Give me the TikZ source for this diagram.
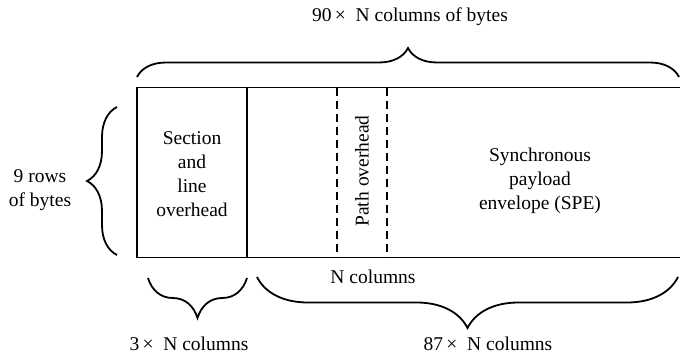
\documentclass[tikz,border=0pt]{standalone}
\usepackage{fontspec}
\setmainfont{Liberation Serif}
\usetikzlibrary{decorations.pathreplacing}
\begin{document}
\begin{tikzpicture}[x=1pt,y=-1pt,
  lbl/.style={font=\fontsize{19.5}{24}\selectfont, inner sep=0pt, align=center},
  frame/.style={line width=1.8pt},
  dashln/.style={line width=1.8pt, dash pattern=on 8pt off 5pt},
  brc/.style={line width=1.8pt, decorate, decoration={brace, amplitude=#1}}]
\useasboundingbox (0,0) rectangle (680,356);
% frame
\coordinate (tl) at (137,87.5);
\coordinate (bl) at (137,257.5);
\coordinate (tr) at (681,87.5);
\coordinate (br) at (681,257.5);
\draw[frame] (tr) -- (tl) -- (bl) -- (br);
\coordinate (dt) at (247,87.5);
\coordinate (db) at (247,257.5);
\draw[frame] (dt) -- (db);
\coordinate (p1t) at (337,87.5);
\coordinate (p1b) at (337,257.5);
\coordinate (p2t) at (387,87.5);
\coordinate (p2b) at (387,257.5);
\draw[dashln] (p1t) -- (p1b);
\draw[dashln] (p2t) -- (p2b);
% braces
\coordinate (tb1) at (137,77);
\coordinate (tb2) at (679,77);
\draw[brc=29pt] (tb1) -- (tb2);
\coordinate (lb1) at (117,255);
\coordinate (lb2) at (117,107);
\draw[brc=30pt] (lb1) -- (lb2);
\coordinate (sb1) at (247,278);
\coordinate (sb2) at (148,278);
\draw[brc=40pt] (sb1) -- (sb2);
\coordinate (bb1) at (678,277);
\coordinate (bb2) at (257,277);
\draw[brc=51pt] (bb1) -- (bb2);
% labels
\node[lbl] (top) at (410,17) {90\,× \ N columns of bytes};
\node[lbl] (rows) at (40,190) {9 rows\\of bytes};
\node[lbl] (sec) at (192,174) {Section\\and\\line\\overhead};
\node[lbl, rotate=90] (path) at (362,171) {Path overhead};
\node[lbl] (spe) at (540,181) {Synchronous\\payload\\envelope (SPE)};
\node[lbl] (ncol) at (373,277) {N columns};
\node[lbl] (three) at (189,344) {3\,× \ N columns};
\node[lbl] (eight) at (488,344) {87\,× \ N columns};
\end{tikzpicture}
\end{document}
